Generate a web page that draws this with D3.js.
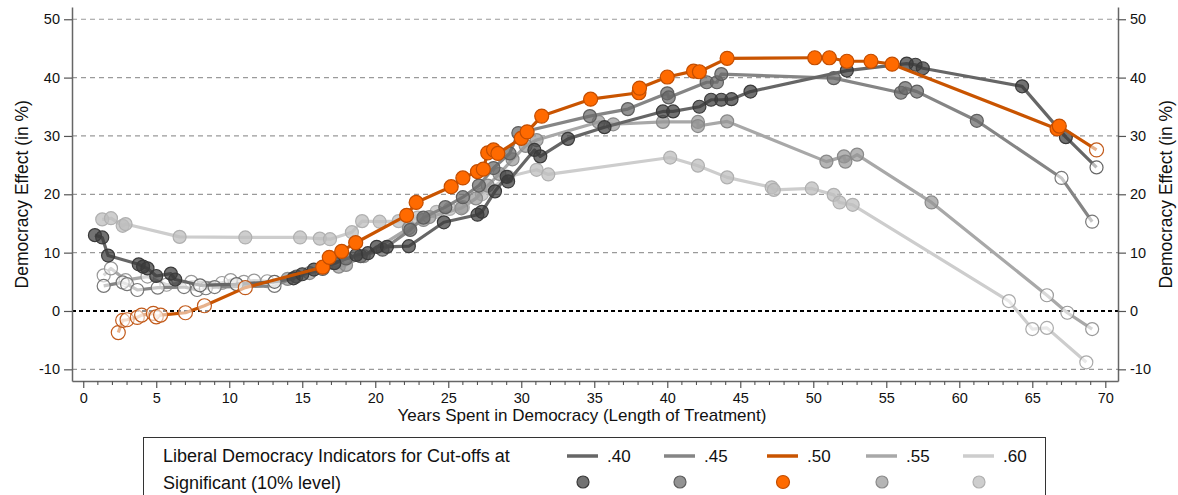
<!DOCTYPE html>
<html>
<head>
<meta charset="utf-8">
<script src="https://cdn.jsdelivr.net/npm/d3@7"></script>
<style>
  html, body { margin: 0; padding: 0; background: #fff; }
  svg { display: block; }
  text { font-family: "Liberation Sans", Arial, Helvetica, sans-serif; fill: #111; }
</style>
</head>
<body>
<svg id="chart" width="1178" height="495"></svg>
<script>
// ---------- DATA ----------
const cutoffs = [".40", ".45", ".50", ".55", ".60"];
const yTicks = [-10, 0, 10, 20, 30, 40, 50];
const xTicksMajor = [0, 5, 10, 15, 20, 25, 30, 35, 40, 45, 50, 55, 60, 65, 70];
const yTitle = "Democracy Effect (in %)";
const xTitle = "Years Spent in Democracy (Length of Treatment)";
const legendTitle = ["Liberal Democracy Indicators for Cut-offs at", "Significant (10% level)"];

// [years, effect, significant(1) / not significant(0)]
const series40 = [
  [0.8,13.0,1],[1.3,12.6,1],[1.7,9.5,1],[3.8,8.0,1],[4.1,7.6,1],[4.4,7.3,1],[5.0,6.0,1],
  [6.0,6.4,1],[6.3,5.4,1],[8.0,4.4,0],[10.5,4.6,0],[13.1,5.0,0],[14.4,5.6,1],[15.0,6.3,1],
  [15.8,7.1,1],[17.2,8.2,1],[18.7,9.6,1],[19.5,9.9,1],[20.1,11.0,1],[20.8,11.0,1],
  [22.3,11.1,1],[24.7,15.2,1],[27.0,16.5,1],[27.3,17.0,1],[28.2,20.5,1],[29.0,23.0,1],
  [29.1,22.2,1],[30.9,27.6,1],[31.3,26.5,1],[33.2,29.5,1],[35.7,31.5,1],[39.7,34.2,1],
  [40.4,34.2,1],[42.2,35.0,1],[43.0,36.2,1],[43.7,36.2,1],[44.4,36.3,1],[45.7,37.6,1],
  [52.3,41.2,1],[56.4,42.4,1],[57.0,42.2,1],[57.5,41.6,1],[64.3,38.5,1],[67.3,29.8,1],
  [69.4,24.6,0]
];
const series45 = [
  [1.4,4.3,0],[2.7,4.9,0],[3.0,4.6,0],[3.7,3.6,0],[5.1,4.0,0],[6.9,4.1,0],[7.8,3.6,0],
  [8.4,3.9,0],[9.0,4.1,0],[13.1,4.3,0],[14.6,5.9,1],[16.4,7.2,1],[18.0,9.0,1],[19.0,9.4,1],
  [20.5,10.5,1],[22.4,13.9,1],[23.3,16.0,1],[24.8,17.8,1],[26.0,19.5,1],[27.1,21.5,1],
  [28.1,24.5,1],[29.2,27.0,1],[29.8,30.5,1],[34.7,33.4,1],[37.3,34.6,1],[40.0,37.3,1],
  [40.1,36.6,1],[42.7,39.2,1],[43.4,39.2,1],[43.7,40.6,1],[51.4,39.9,1],[56.0,37.4,1],
  [56.3,38.2,1],[57.1,37.6,1],[61.2,32.6,1],[67.0,22.8,0],[69.1,15.3,0]
];
const series50 = [
  [2.4,-3.7,0],[2.7,-1.6,0],[3.0,-1.5,0],[3.7,-1.1,0],[4.0,-0.7,0],[4.8,-0.4,0],[5.0,-1.0,0],
  [5.3,-0.7,0],[7.0,-0.3,0],[8.3,0.9,0],[11.1,4.0,0],[16.4,7.5,1],[16.85,9.2,1],[17.7,10.2,1],
  [18.66,11.7,1],[22.15,16.4,1],[22.8,18.6,1],[25.2,21.3,1],[26.0,22.8,1],[27.0,23.9,1],
  [27.4,24.3,1],[27.7,27.1,1],[28.1,27.6,1],[28.4,27.0,1],[30.0,29.6,1],[30.4,30.7,1],
  [31.4,33.4,1],[34.75,36.3,1],[38.06,37.4,1],[38.1,38.2,1],[40.0,40.1,1],[41.8,41.1,1],
  [42.2,41.0,1],[44.1,43.3,1],[50.1,43.4,1],[51.1,43.4,1],[52.3,42.8,1],[53.95,42.8,1],
  [55.4,42.3,1],[66.7,31.2,1],[66.85,31.7,1],[69.4,27.6,0]
];
const series55 = [
  [1.4,6.1,0],[1.9,7.3,0],[2.9,5.3,0],[4.4,5.9,0],[5.7,4.5,0],[7.4,5.0,0],[9.5,4.8,0],
  [10.1,5.3,0],[11.0,5.0,0],[11.7,5.2,0],[12.6,5.1,0],[14.0,5.5,1],[15.5,6.5,1],[17.5,7.6,1],
  [18.0,7.9,1],[19.2,9.4,1],[22.3,14.2,1],[23.3,15.6,1],[23.7,16.1,1],[25.9,17.6,1],
  [26.9,19.3,1],[27.7,21.5,1],[28.5,23.5,1],[29.4,26.0,1],[30.3,28.3,1],[31.05,29.3,1],
  [35.3,32.4,1],[36.3,32.0,1],[39.7,32.4,1],[42.1,32.4,1],[42.1,31.7,1],[44.1,32.5,1],
  [50.9,25.6,1],[52.1,26.5,1],[52.2,25.6,1],[53.0,26.8,1],[58.1,18.6,1],[66.0,2.7,0],
  [67.4,-0.3,0],[69.1,-3.1,0]
];
const series60 = [
  [1.3,15.7,1],[1.9,15.9,1],[2.7,14.6,1],[2.9,14.9,1],[6.6,12.7,1],[11.1,12.6,1],
  [14.85,12.6,1],[16.2,12.4,1],[16.9,12.3,1],[18.4,13.5,1],[19.1,15.4,1],[20.3,15.3,1],
  [21.6,15.4,1],[22.9,16.0,1],[24.2,17.0,1],[25.1,17.5,1],[26.0,17.8,1],[27.3,20.0,1],
  [29.1,23.0,1],[31.05,24.2,1],[31.85,23.4,1],[40.2,26.3,1],[42.1,24.9,1],[44.1,22.9,1],
  [47.15,21.2,1],[47.3,20.75,1],[49.9,21.0,1],[51.4,19.9,1],[51.8,18.6,1],[52.7,18.2,1],
  [63.4,1.7,0],[65.0,-3.1,0],[66.0,-2.9,0],[68.7,-8.8,0]
];

// ---------- STYLE ----------
const styles = {
  ".40": { line: "#666666", fill: "rgba(60,60,60,0.72)",  stroke: "#3a3a3a", hollow: "#666", r: 6.5 },
  ".45": { line: "#858585", fill: "rgba(105,105,105,0.72)", stroke: "#5e5e5e", hollow: "#777", r: 6.5 },
  ".50": { line: "#c95400", fill: "#ff6a00", stroke: "#c24d00", hollow: "#c25a1a", r: 7 },
  ".55": { line: "#a8a8a8", fill: "rgba(150,150,150,0.7)", stroke: "#8a8a8a", hollow: "#999", r: 6.5 },
  ".60": { line: "#cdcdcd", fill: "rgba(190,190,190,0.75)", stroke: "#b0b0b0", hollow: "#aaa", r: 6.5 }
};
const seriesByCut = { ".40": series40, ".45": series45, ".50": series50, ".55": series55, ".60": series60 };

// ---------- CHART ----------
const svg = d3.select("#chart");
const pLeft = 72, pRight = 1118, pTop = 7, pBottom = 381;

const x = d3.scaleLinear().domain([-0.77, 70.87]).range([pLeft, pRight]);
const y = d3.scaleLinear().domain([-12.0, 52.1]).range([pBottom, pTop]);

// gridlines
const grid = svg.append("g");
grid.selectAll("line.g").data(yTicks.filter(d => d !== 0)).join("line")
  .attr("x1", pLeft).attr("x2", pRight)
  .attr("y1", d => y(d)).attr("y2", d => y(d))
  .attr("stroke", "#9a9a9a").attr("stroke-width", 1.2).attr("stroke-dasharray", "5,4");
grid.append("line")
  .attr("x1", pLeft).attr("x2", pRight).attr("y1", y(0)).attr("y2", y(0))
  .attr("stroke", "#000").attr("stroke-width", 2).attr("stroke-dasharray", "4,3");

// axes
const fmt = d => String(d);
function styleAxis(g) {
  g.select(".domain").attr("stroke", "#666").attr("stroke-width", 1.5);
  g.selectAll(".tick line").attr("stroke", "#555").attr("stroke-width", 1.2);
  g.selectAll(".tick text").style("font-size", "14.5px").attr("fill", "#111");
}
const yAxisL = svg.append("g").attr("transform", `translate(${pLeft},0)`)
  .call(d3.axisLeft(y).tickValues(yTicks).tickFormat(fmt).tickSize(8).tickSizeOuter(0).tickPadding(4));
styleAxis(yAxisL);
const yAxisR = svg.append("g").attr("transform", `translate(${pRight},0)`)
  .call(d3.axisRight(y).tickValues(yTicks).tickFormat(fmt).tickSize(8).tickSizeOuter(0).tickPadding(4));
styleAxis(yAxisR);

const xAxis = svg.append("g").attr("transform", `translate(0,${pBottom})`)
  .call(d3.axisBottom(x).tickValues(xTicksMajor).tickFormat(fmt).tickSize(7).tickSizeOuter(0).tickPadding(5));
styleAxis(xAxis);
// minor ticks every year
const minor = d3.range(0, 71).filter(v => v % 5 !== 0);
svg.append("g").selectAll("line").data(minor).join("line")
  .attr("x1", d => x(d)).attr("x2", d => x(d))
  .attr("y1", pBottom).attr("y2", pBottom + 4)
  .attr("stroke", "#555").attr("stroke-width", 1.1);

// titles
svg.append("text").attr("transform", `translate(28,${(y(50)+y(-10))/2}) rotate(-90)`)
  .attr("text-anchor", "middle").style("font-size", "17.5px").text(yTitle);
svg.append("text").attr("transform", `translate(1172,${(y(50)+y(-10))/2}) rotate(-90)`)
  .attr("text-anchor", "middle").style("font-size", "17.5px").text(yTitle);
svg.append("text").attr("x", 582).attr("y", 421)
  .attr("text-anchor", "middle").style("font-size", "17px").text(xTitle);

// series
const line = d3.line().x(d => x(d[0])).y(d => y(d[1]));
const drawOrder = [".60", ".55", ".45", ".40", ".50"];
drawOrder.forEach(c => {
  const s = styles[c], data = seriesByCut[c];
  const g = svg.append("g");
  g.append("path").datum(data).attr("d", line)
    .attr("fill", "none").attr("stroke", s.line).attr("stroke-width", 3.2)
    .attr("stroke-linejoin", "round");
  g.selectAll("circle").data(data).join("circle")
    .attr("cx", d => x(d[0])).attr("cy", d => y(d[1])).attr("r", s.r)
    .attr("fill", d => d[2] ? s.fill : "rgba(255,255,255,0.55)")
    .attr("stroke", d => d[2] ? s.stroke : s.hollow)
    .attr("stroke-width", 1.2);
});

// legend
const lg = svg.append("g");
lg.append("rect").attr("x", 143.5).attr("y", 437.5).attr("width", 902).attr("height", 80)
  .attr("fill", "#fff").attr("stroke", "#333").attr("stroke-width", 1);
lg.append("text").attr("x", 163).attr("y", 462).style("font-size", "18px").text(legendTitle[0]);
lg.append("text").attr("x", 163).attr("y", 489).style("font-size", "18px").text(legendTitle[1]);
const legX = { ".40": 567, ".45": 664, ".50": 767, ".55": 866, ".60": 963 };
cutoffs.forEach(c => {
  const s = styles[c], x0 = legX[c];
  lg.append("line").attr("x1", x0).attr("x2", x0 + 31).attr("y1", 456).attr("y2", 456)
    .attr("stroke", s.line).attr("stroke-width", 3.5);
  lg.append("text").attr("x", x0 + 40).attr("y", 462).style("font-size", "17px").text(c);
  lg.append("circle").attr("cx", x0 + 16).attr("cy", 482).attr("r", s.r - 0.5)
    .attr("fill", s.fill).attr("stroke", s.stroke).attr("stroke-width", 1.2);
});
</script>
</body>
</html>
